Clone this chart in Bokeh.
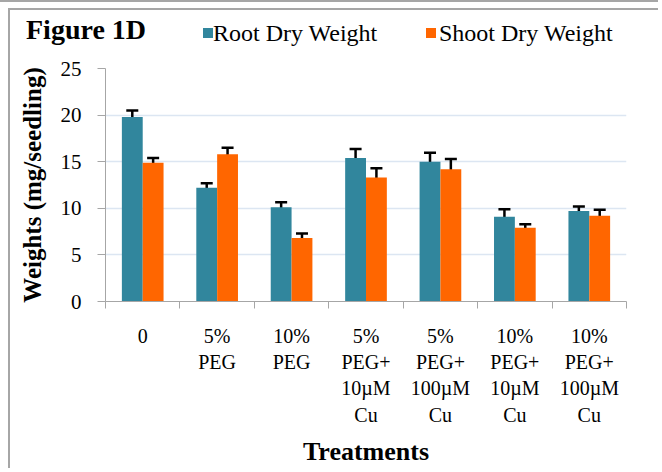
from bokeh.plotting import figure
from bokeh.layouts import column
from bokeh.models import (Range1d, LinearAxis, FixedTicker, ColumnDataSource,
                          Whisker, TeeHead, Div)
from bokeh.embed import file_html
from bokeh.resources import INLINE

# ---- data ----
chart_title = "Figure 1D"
treatments = ["0", "5%\nPEG", "10%\nPEG",
              "5%\nPEG+\n10\u00b5M\nCu", "5%\nPEG+\n100\u00b5M\nCu",
              "10%\nPEG+\n10\u00b5M\nCu", "10%\nPEG+\n100\u00b5M\nCu"]
root = [19.8, 12.2, 10.1, 15.4, 15.0, 9.1, 9.7]
root_err = [0.7, 0.5, 0.55, 0.95, 0.95, 0.8, 0.5]
shoot = [14.9, 15.8, 6.8, 13.3, 14.2, 7.9, 9.2]
shoot_err = [0.5, 0.7, 0.5, 1.0, 1.1, 0.4, 0.65]
y_ticks = [0, 5, 10, 15, 20, 25]
series_names = ["Root Dry Weight", "Shoot Dry Weight"]

TEAL = "#31869d"
ORANGE = "#ff6600"
AXIS = "#a6a6a6"
FONT = "Liberation Serif"
BORDER = "2px solid #a6a6a6"
FF = "font-family:'Liberation Serif','Times New Roman',serif;"

n = len(treatments)
offset = 0.14
bw = 0.28

root_src = ColumnDataSource(dict(
    x=[i + 0.5 - offset for i in range(n)], top=root,
    upper=[v + e for v, e in zip(root, root_err)],
    lower=[v - e for v, e in zip(root, root_err)]))
shoot_src = ColumnDataSource(dict(
    x=[i + 0.5 + offset for i in range(n)], top=shoot,
    upper=[v + e for v, e in zip(shoot, shoot_err)],
    lower=[v - e for v, e in zip(shoot, shoot_err)]))

# ---- header (title + legend) as HTML text ----
swatches = [(TEAL, 193, 203, series_names[0]), (ORANGE, 416, 429, series_names[1])]
legend_html = "".join(
    f'<span style="position:absolute;left:{sx}px;top:18px;width:10px;height:10px;'
    f'background:{c};"></span>'
    f'<span style="position:absolute;left:{tx}px;top:11px;{FF}font-size:24px;'
    f'font-weight:normal;line-height:24px;white-space:nowrap;color:black;">{name}</span>'
    for c, sx, tx, name in swatches)
header_html = (
    f'<div style="position:relative;width:650px;height:48px;{FF}">'
    f'<span style="position:absolute;left:16px;top:6px;{FF}font-size:28px;line-height:28px;'
    f'font-weight:bold;white-space:nowrap;color:black;">{chart_title}</span>'
    f'{legend_html}</div>')
hdr = Div(text=header_html, width=650, height=48)
hdr.margin = (6, 0, 0, 8)
hdr.styles = {"border-left": BORDER, "border-top": BORDER, "font-family": "'Liberation Serif', serif"}

# ---- main chart ----
p = figure(width=650, height=412, x_range=Range1d(0, n), y_range=Range1d(0, 25),
           output_backend="svg", toolbar_location=None, x_axis_location=None,
           min_border_left=95, min_border_right=34, min_border_top=12,
           min_border_bottom=166)
p.outline_line_color = None
p.margin = (0, 0, 0, 8)
p.styles = {"border-left": BORDER}

p.vbar(x="x", top="top", width=bw, source=root_src, fill_color=TEAL, line_color=None)
p.vbar(x="x", top="top", width=bw, source=shoot_src, fill_color=ORANGE, line_color=None)

for src in (root_src, shoot_src):
    p.add_layout(Whisker(base="x", upper="upper", lower="lower", source=src,
                         line_width=2.5, line_color="black",
                         upper_head=TeeHead(size=12, line_width=2.5, line_color="black"),
                         lower_head=TeeHead(size=12, line_width=2.5, line_color="black")))

# boundary ticks axis
ax_ticks = LinearAxis(ticker=FixedTicker(ticks=list(range(n + 1))),
                      major_label_overrides={i: "" for i in range(n + 1)},
                      major_tick_in=0, major_tick_out=7,
                      minor_tick_line_color=None,
                      axis_line_color=AXIS, major_tick_line_color=AXIS,
                      major_label_text_font_size="1px", major_label_standoff=0)
p.add_layout(ax_ticks, "below")

ax_labels = LinearAxis(ticker=FixedTicker(ticks=[i + 0.5 for i in range(n)]),
                       major_label_overrides={i + 0.5: t for i, t in enumerate(treatments)},
                       axis_line_color=None, major_tick_line_color=None,
                       minor_tick_line_color=None,
                       major_label_standoff=10,
                       major_label_text_font=FONT, major_label_text_font_size="20px",
                       major_label_text_line_height=1.2, major_label_text_color="black",
                       axis_label="Treatments", axis_label_text_font=FONT,
                       axis_label_text_font_style="bold", axis_label_text_font_size="26px",
                       axis_label_text_color="black", axis_label_standoff=8)
p.add_layout(ax_labels, "below")

yax = p.yaxis[0]
yax.ticker = FixedTicker(ticks=y_ticks)
yax.axis_line_color = AXIS
yax.major_tick_line_color = AXIS
yax.major_tick_in = 0
yax.major_tick_out = 8
yax.minor_tick_line_color = None
yax.major_label_standoff = 16
yax.major_label_text_font = FONT
yax.major_label_text_font_size = "21px"
yax.major_label_text_color = "black"
yax.axis_label = "Weights (mg/seedling)"
yax.axis_label_text_font = FONT
yax.axis_label_text_font_style = "bold"
yax.axis_label_text_font_size = "25px"
yax.axis_label_text_color = "black"
yax.axis_label_standoff = 12

p.xgrid.visible = False
p.ygrid.ticker = FixedTicker(ticks=y_ticks)
p.ygrid.grid_line_color = "#dce6f2"
p.ygrid.grid_line_width = 1.5

page = column(hdr, p, spacing=0, styles={"border-top": BORDER})

open("out.html", "w").write(file_html(page, INLINE))
